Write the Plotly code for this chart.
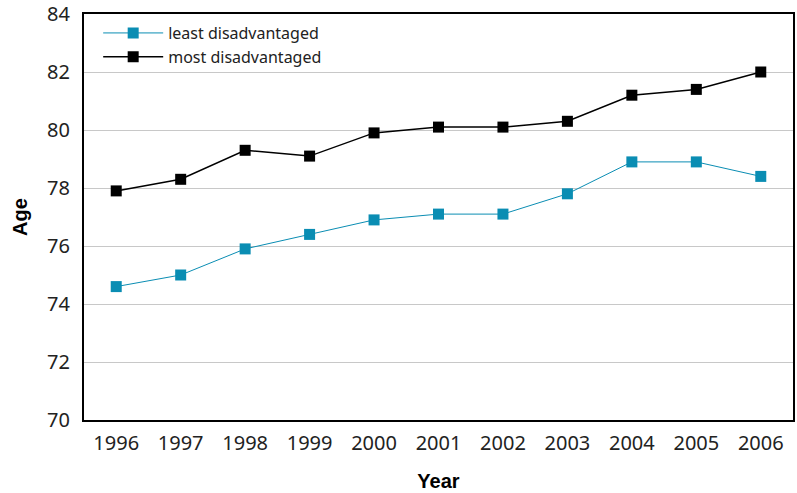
import plotly.graph_objects as go

years = [1996, 1997, 1998, 1999, 2000, 2001, 2002, 2003, 2004, 2005, 2006]
least = [74.6, 75.0, 75.9, 76.4, 76.9, 77.1, 77.1, 77.8, 78.9, 78.9, 78.4]
most = [77.9, 78.3, 79.3, 79.1, 79.9, 80.1, 80.1, 80.3, 81.2, 81.4, 82.0]
y_ticks = [70, 72, 74, 76, 78, 80, 82, 84]

teal = "#0a8db3"

fig = go.Figure()
fig.add_trace(go.Scatter(x=years, y=least, mode="lines+markers", name="least disadvantaged",
                         line=dict(color=teal, width=1),
                         marker=dict(symbol="square", size=11, color=teal)))
fig.add_trace(go.Scatter(x=years, y=most, mode="lines+markers", name="most disadvantaged",
                         line=dict(color="black", width=1.5),
                         marker=dict(symbol="square", size=11, color="black")))

fig.update_layout(
    width=797, height=493,
    margin=dict(l=84, r=4, t=14, b=73),
    paper_bgcolor="white", plot_bgcolor="white",
    font=dict(family="Noto Sans", color="#222"),
    legend=dict(x=0.02, y=0.995, xanchor="left", yanchor="top",
                font=dict(size=16, family="Noto Sans", color="#222"),
                bgcolor="rgba(0,0,0,0)", tracegroupgap=0, itemwidth=60),
    showlegend=True,
)
fig.update_xaxes(range=[1995.5, 2006.5], tickmode="array", tickvals=years,
                 ticktext=[str(y) for y in years], automargin=False,
                 tickfont=dict(size=20, family="Noto Sans", color="#222"),
                 showgrid=False, showline=True, linecolor="black", linewidth=2, mirror=True,
                 ticks="", ticklabelstandoff=4,
                 title=dict(text="<b>Year</b>", font=dict(size=20, family="Liberation Sans", color="black"),
                            standoff=19))
fig.update_yaxes(range=[70, 84], tickmode="array", tickvals=y_ticks, automargin=False,
                 tickfont=dict(size=20, family="Noto Sans", color="#222"),
                 showgrid=True, gridcolor="#c8c8c8", gridwidth=1,
                 showline=True, linecolor="black", linewidth=2, mirror=True,
                 zeroline=False, ticks="", ticklabelstandoff=8,
                 title=dict(text="<b>Age</b>", font=dict(size=20, family="Liberation Sans", color="black"),
                            standoff=14))

fig.write_html("out.html", config={"displayModeBar": False},
               post_script="document.body.style.margin='0';")
